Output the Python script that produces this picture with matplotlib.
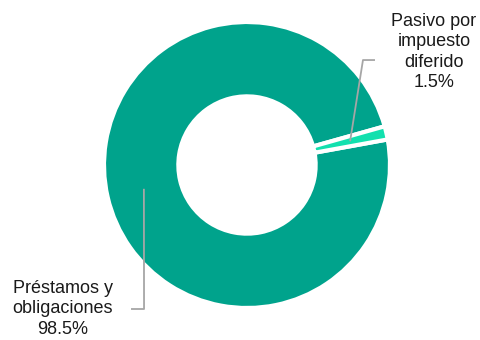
import matplotlib
matplotlib.use("Agg")
import matplotlib.pyplot as plt
import numpy as np

plt.rcParams["font.family"] = ["Liberation Sans", "DejaVu Sans"]

labels = ["Préstamos y\nobligaciones", "Pasivo por\nimpuesto\ndiferido"]
values = [98.5, 1.5]
colors = ["#00a38c", "#12e0ae"]

# pixel layout: donut centre (247,165), outer radius 143 px
W, H = 480, 340
cx, cy, R = 247, 165, 143

fig = plt.figure(figsize=(W / 100, H / 100), dpi=100)
ax = fig.add_axes([0, 0, 1, 1])

wedges, _ = ax.pie(values,
                   colors=colors,
                   startangle=15.7,
                   radius=1,
                   wedgeprops={"width": 0.52, "edgecolor": "white", "linewidth": 3})

ax.set_xlim(-cx / R, (W - cx) / R)
ax.set_ylim(-(H - cy) / R, cy / R)
ax.set_aspect("equal")
ax.axis("off")

# label positions (bend point, end of leader, text centre)
bends = [(-0.72, -1.007), (0.811, 0.734)]
ends = [(-0.811, -1.007), (0.895, 0.734)]
texts = [(-1.287, -1.005), (1.308, 0.79)]

for w, lab, v, b, e, t in zip(wedges, labels, values, bends, ends, texts):
    mid = np.deg2rad((w.theta1 + w.theta2) / 2)
    r = 1 - 0.52 / 2
    sx, sy = r * np.cos(mid), r * np.sin(mid)
    ax.plot([sx, b[0], e[0]], [sy, b[1], e[1]], color="#a6a6a6", lw=1.3,
            solid_capstyle="butt")
    ax.text(t[0], t[1], "{}\n{}%".format(lab, v), ha="center", va="center",
            fontsize=13, color="#1a1a1a", linespacing=1.28)

fig.savefig("out.png", dpi=100)
